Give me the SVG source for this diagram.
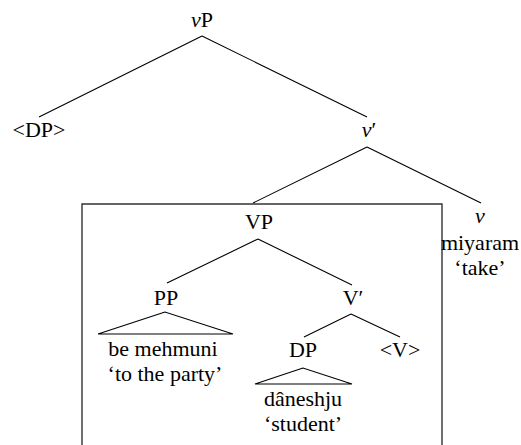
<svg xmlns="http://www.w3.org/2000/svg" width="521" height="445" viewBox="0 0 521 445">
<style>
.edge{stroke:#000;stroke-width:1.1;fill:none}
.box{stroke:#333;stroke-width:1.4;fill:none}
</style>
<rect width="521" height="445" fill="#fff"/>
<g id="connectors">
<path class="edge" d="M202,36 L39,117 M202,36 L367,117"/>
<path class="edge" d="M367,147 L253,203 M367,147 L481,203"/>
<path class="edge" d="M258,239 L167,283 M258,239 L352,285"/>
<path class="edge" d="M165,312 L98,334 L233,334 Z"/>
<path class="edge" d="M351,314 L304,337 M351,314 L400,337"/>
<path class="edge" d="M303,368 L255,384 L352,384 Z"/>
</g>
<g id="box"><path class="box" d="M82,445 V204 H442 V445"/></g>
<g id="vP"><text font-family="Times New Roman, serif" font-size="22" text-anchor="middle" x="202" y="27"><tspan font-style="italic">v</tspan>P</text></g>
<g id="DP-trace"><text font-family="Times New Roman, serif" font-size="22" text-anchor="middle" x="39" y="137">&lt;DP&gt;</text></g>
<g id="vbar"><text font-family="Times New Roman, serif" font-size="22" text-anchor="middle" x="369" y="137"><tspan font-style="italic">v</tspan>&#8242;</text></g>
<g id="VP"><text font-family="Times New Roman, serif" font-size="22" text-anchor="middle" x="259" y="229">VP</text></g>
<g id="v"><text font-family="Times New Roman, serif" font-size="22" text-anchor="middle" x="480" y="223" font-style="italic">v</text><text font-family="Times New Roman, serif" font-size="22" text-anchor="middle" x="480" y="249.5">miyaram</text><text font-family="Times New Roman, serif" font-size="22" text-anchor="middle" x="480" y="275">&#8216;take&#8217;</text></g>
<g id="PP"><text font-family="Times New Roman, serif" font-size="22" text-anchor="middle" x="166" y="305">PP</text><text font-family="Times New Roman, serif" font-size="22" text-anchor="middle" x="163" y="356">be mehmuni</text><text font-family="Times New Roman, serif" font-size="22" text-anchor="middle" x="165" y="381">&#8216;to the party&#8217;</text></g>
<g id="Vbar"><text font-family="Times New Roman, serif" font-size="22" text-anchor="middle" x="353" y="305">V&#8242;</text></g>
<g id="DP"><text font-family="Times New Roman, serif" font-size="22" text-anchor="middle" x="303" y="357">DP</text><text font-family="Times New Roman, serif" font-size="22" text-anchor="middle" x="303" y="406">d&#226;neshju</text><text font-family="Times New Roman, serif" font-size="22" text-anchor="middle" x="303" y="431">&#8216;student&#8217;</text></g>
<g id="V-trace"><text font-family="Times New Roman, serif" font-size="22" text-anchor="middle" x="400" y="357">&lt;V&gt;</text></g>
</svg>
